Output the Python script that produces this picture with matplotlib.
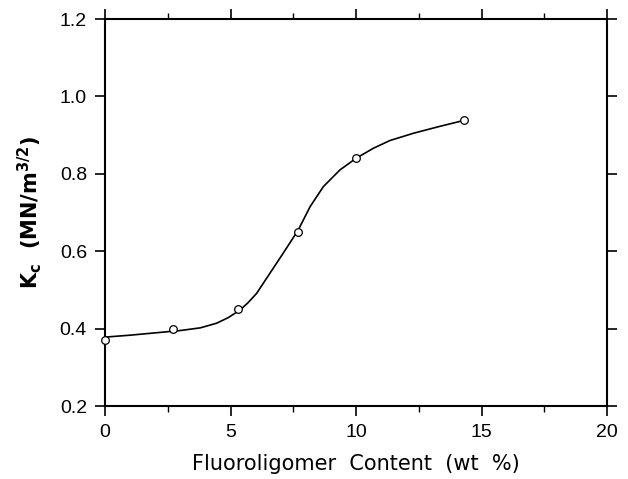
import matplotlib
matplotlib.use("Agg")
import matplotlib.pyplot as plt
from matplotlib.ticker import MultipleLocator

# Measured data points
content = [0.0, 2.7, 5.3, 7.7, 10.0, 14.3]
kc = [0.37, 0.40, 0.45, 0.65, 0.84, 0.938]

# Smooth guide curve
curve_x = [0.0, 1.0, 2.0, 3.0, 3.8, 4.45, 4.9, 5.38, 5.7, 6.04, 6.57, 7.1, 7.7,
           8.17, 8.7, 9.36, 10.0, 10.69, 11.35, 12.3, 13.3, 14.3]
curve_y = [0.378, 0.383, 0.389, 0.395, 0.402, 0.414, 0.428, 0.448, 0.467, 0.491, 0.543,
           0.595, 0.655, 0.715, 0.767, 0.81, 0.84, 0.866, 0.886, 0.905, 0.922, 0.938]

xticks = [0, 5, 10, 15, 20]
yticks = [0.2, 0.4, 0.6, 0.8, 1.0, 1.2]

plt.rcParams['font.family'] = ['Liberation Sans', 'DejaVu Sans']

fig = plt.figure(figsize=(6.28, 4.79), dpi=100)
ax = fig.add_axes([0.1672, 0.1524, 0.7994, 0.8079])

ax.plot(curve_x, curve_y, color='black', lw=1.2, clip_on=False, zorder=2,
        solid_joinstyle='round')
ax.plot(content, kc, linestyle='none', marker='o', ms=5.5, mfc='white', mec='black',
        mew=0.9, clip_on=False, zorder=3)

ax.set_xlim(0, 20)
ax.set_ylim(0.2, 1.2)
ax.set_xticks(xticks)
ax.set_xticklabels([str(t) for t in xticks])
ax.set_yticks(yticks)
ax.set_yticklabels([f"{t:.1f}" for t in yticks])
ax.xaxis.set_minor_locator(MultipleLocator(2.5))

for s in ax.spines.values():
    s.set_linewidth(1.5)

ax.tick_params(which='major', direction='out', length=7, width=1.2,
               top=True, right=True, labelsize=14, pad=6)
ax.tick_params(which='minor', direction='out', length=4, width=1.0,
               top=True, right=True)

ax.set_xlabel("Fluoroligomer  Content  (wt  %)", fontsize=15, labelpad=9,
              family=['DejaVu Sans'])
ax.set_ylabel(r"K$_\mathbf{c}$  (MN/m$^\mathbf{3/2}$)", fontsize=15, fontweight='bold',
              labelpad=11, family=['DejaVu Sans'])

fig.savefig("out.png", dpi=100)
